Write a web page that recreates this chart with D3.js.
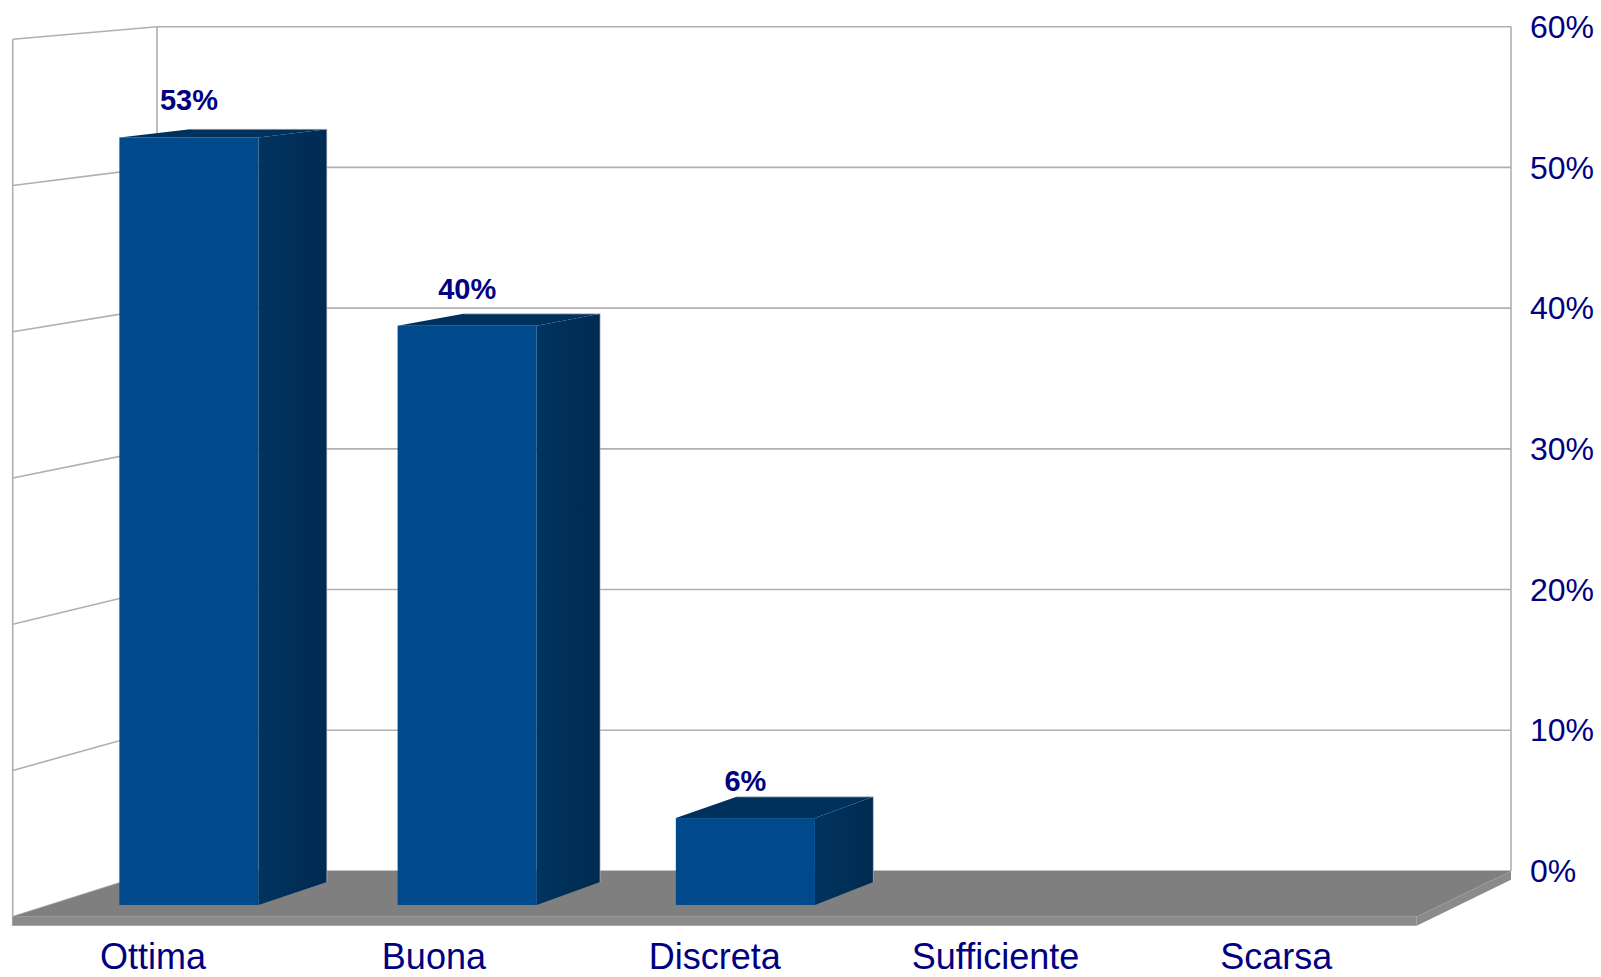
<!DOCTYPE html>
<html>
<head>
<meta charset="utf-8">
<script src="https://cdn.jsdelivr.net/npm/d3@7/dist/d3.min.js"></script>
<style>
  html, body { margin: 0; padding: 0; background: #ffffff; }
  svg { display: block; }
  text { font-family: "Liberation Sans", Arial, sans-serif; fill: #000080; }
</style>
</head>
<body>
<svg id="chart" width="1601" height="977"></svg>
<script>
// ---- data ----
const categories = ["Ottima", "Buona", "Discreta", "Sufficiente", "Scarsa"];
const values = [53, 40, 6, 0, 0];
const valueLabels = ["53%", "40%", "6%", "", ""];
const yTicks = [0, 10, 20, 30, 40, 50, 60];
const yTickLabels = ["0%", "10%", "20%", "30%", "40%", "50%", "60%"];

// ---- layout ----
const svg = d3.select("#chart");

// front plane (depth z = 0)
const x = d3.scaleBand().domain(categories).range([12.7, 1416.7]).paddingInner(0).paddingOuter(0);
const y = d3.scaleLinear().domain([0, 60]).range([916.7, 39.3]);

// back plane (depth z = 1) as a linear map of front-plane coords
const backX0 = 157, backX1 = 1511;
const backY0 = 871, backY60 = 26.7;
const sx = (backX1 - backX0) / (x.range()[1] - x.range()[0]);
const sy = (backY0 - backY60) / (y(0) - y(60));
const kPersp = 0.0392;
function w(z) {
  const s = 1 / (1 + kPersp * z), s1 = 1 / (1 + kPersp);
  return (1 - s) / (1 - s1);
}
function proj(xf, yf, z) {
  const xb = backX0 + (xf - x.range()[0]) * sx;
  const yb = backY0 + (yf - y(0)) * sy;
  const t = w(z);
  return [xf + (xb - xf) * t, yf + (yb - yf) * t];
}
const poly = pts => pts.map(p => p.join(",")).join(" ");

const gridColor = "#b0b0b0";
const floorThick = 9;

// defs
const defs = svg.append("defs");
const g1 = defs.append("linearGradient").attr("id", "sideGrad")
  .attr("x1", "0%").attr("x2", "100%").attr("y1", "0%").attr("y2", "0%");
g1.append("stop").attr("offset", "0%").attr("stop-color", "#00345f");
g1.append("stop").attr("offset", "100%").attr("stop-color", "#002a51");

// ---- back wall gridlines ----
const xL = x.range()[0], xR = x.range()[1];
const grid = svg.append("g");
yTicks.forEach(v => {
  const a = proj(xL, y(v), 1), b = proj(xR, y(v), 1);
  grid.append("line").attr("x1", a[0]).attr("y1", a[1]).attr("x2", b[0]).attr("y2", b[1])
    .attr("stroke", gridColor).attr("stroke-width", 1.6);
});
// back wall verticals
[xL, xR].forEach(xv => {
  const a = proj(xv, y(60), 1), b = proj(xv, y(0), 1);
  grid.append("line").attr("x1", a[0]).attr("y1", a[1]).attr("x2", b[0]).attr("y2", b[1])
    .attr("stroke", gridColor).attr("stroke-width", 1.6);
});
// left side wall lines
yTicks.forEach(v => {
  const a = proj(xL, y(v), 0), b = proj(xL, y(v), 1);
  grid.append("line").attr("x1", a[0]).attr("y1", a[1]).attr("x2", b[0]).attr("y2", b[1])
    .attr("stroke", gridColor).attr("stroke-width", 1.6);
});
{
  const a = proj(xL, y(60), 0);
  grid.append("line").attr("x1", a[0]).attr("y1", a[1]).attr("x2", a[0]).attr("y2", y(0) + floorThick)
    .attr("stroke", gridColor).attr("stroke-width", 1.6);
}

// ---- floor slab ----
const floor = svg.append("g");
const fTop = [proj(xL, y(0), 0), proj(xR, y(0), 0), proj(xR, y(0), 1), proj(xL, y(0), 1)];
floor.append("polygon").attr("points", poly(fTop)).attr("fill", "#7f7f7f");
const fFront = [proj(xL, y(0), 0), proj(xR, y(0), 0), proj(xR, y(0) + floorThick, 0), proj(xL, y(0) + floorThick, 0)];
floor.append("polygon").attr("points", poly(fFront)).attr("fill", "#8b8b8b");
const fSide = [proj(xR, y(0), 0), proj(xR, y(0), 1), proj(xR, y(0) + floorThick, 1), proj(xR, y(0) + floorThick, 0)];
floor.append("polygon").attr("points", poly(fSide)).attr("fill", "#8b8b8b");

// ---- bars ----
const z0 = 0.25, z1 = 0.75;
const bw = x.bandwidth();
const barData = categories.map((c, i) => ({ c, v: values[i], label: valueLabels[i] })).filter(d => d.v > 0);
const bars = svg.append("g").selectAll("g").data(barData).join("g");
bars.each(function (d) {
  const g = d3.select(this);
  const bx0 = x(d.c) + bw * 0.25, bx1 = x(d.c) + bw * 0.75;
  const yt = y(d.v), yb = y(0);
  // side face
  g.append("polygon").attr("points", poly([proj(bx1, yt, z0), proj(bx1, yt, z1), proj(bx1, yb, z1), proj(bx1, yb, z0)]))
    .attr("fill", "url(#sideGrad)");
  // top face
  g.append("polygon").attr("points", poly([proj(bx0, yt, z0), proj(bx1, yt, z0), proj(bx1, yt, z1), proj(bx0, yt, z1)]))
    .attr("fill", "#00305c");
  // front face
  const f0 = proj(bx0, yt, z0), f1 = proj(bx1, yb, z0);
  g.append("rect").attr("x", f0[0]).attr("y", f0[1]).attr("width", f1[0] - f0[0]).attr("height", f1[1] - f0[1])
    .attr("fill", "#004a8c");
  // faint light edges (back top + right)
  const e1 = proj(bx0, yt, z1), e2 = proj(bx1, yt, z1), e3 = proj(bx1, yb, z1);
  g.append("polyline").attr("points", poly([e1, e2, e3])).attr("fill", "none")
    .attr("stroke", "#c8c8c8").attr("stroke-width", 1).attr("stroke-opacity", 0.6);
  // value label
  const cx = proj(x(d.c) + bw / 2, yt, z0);
  g.append("text").attr("x", cx[0]).attr("y", cx[1] - 27)
    .attr("text-anchor", "middle").style("font-size", "29px").style("font-weight", "bold")
    .text(d.label);
});

// ---- y tick labels (right, at back plane) ----
const yl = svg.append("g");
yTicks.forEach((v, i) => {
  const p = proj(xR, y(v), 1);
  yl.append("text").attr("x", 1530).attr("y", p[1]).attr("dy", "0.35em")
    .style("font-size", "32px").text(yTickLabels[i]);
});

// ---- category labels ----
svg.append("g").selectAll("text").data(categories).join("text")
  .attr("x", d => x(d) + bw / 2).attr("y", 969)
  .attr("text-anchor", "middle").style("font-size", "36px")
  .text(d => d);
</script>
</body>
</html>
